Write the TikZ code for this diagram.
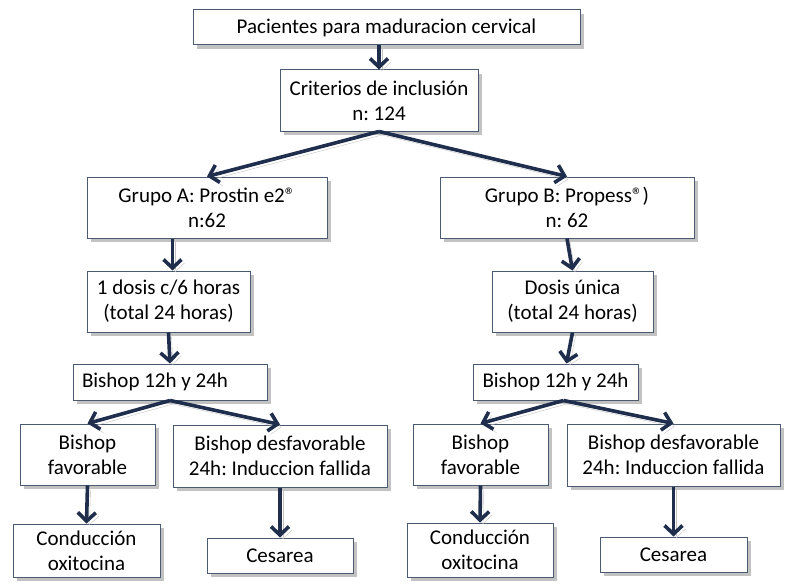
\documentclass[tikz,border=0pt]{standalone}
\usepackage{fontspec}
\setmainfont{Carlito}
\usepackage{xcolor}
\usepackage{tikz}
\usetikzlibrary{arrows.meta,shadows}
\definecolor{arrownavy}{HTML}{1F2E4C}
\definecolor{boxedge}{HTML}{4A5A70}
\definecolor{shadowgray}{HTML}{C2C2C2}
\frenchspacing

\begin{document}
\begin{tikzpicture}[x=1pt, y=-1pt,
    box/.style={draw=boxedge, line width=1pt, fill=white, align=center, inner sep=2pt,
        drop shadow={shadow xshift=4pt, shadow yshift=-4pt, fill=shadowgray, opacity=1},
        font=\fontsize{21}{25}\selectfont},
    link/.style={draw=arrownavy, line width=3.6pt, -{Straight Barb[length=8.5pt,width=18pt]},
        preaction={draw=shadowgray, transform canvas={xshift=3pt, yshift=-3.5pt}}}]
    \useasboundingbox (0,0) rectangle (788,586);
    \node[box, minimum width=387pt, minimum height=35pt] (pac) at (386.5,27.5) {Pacientes para maduracion cervical};
    \node[box, minimum width=198pt, minimum height=61pt] (crit) at (379,100.5) {Criterios de inclusión\\n: 124};
    \node[box, minimum width=240pt, minimum height=61pt] (grA) at (207,207.5) {Grupo A: Prostin e2®\\n:62};
    \node[box, minimum width=254pt, minimum height=61pt] (grB) at (567,207.5) {Grupo B: Propess®)\\n: 62};
    \node[box, minimum width=163pt, minimum height=61pt] (dosA) at (168.5,301.5) {1 dosis c/6 horas\\(total 24 horas)};
    \node[box, minimum width=161pt, minimum height=61pt] (dosB) at (572.5,301.5) {Dosis única\\(total 24 horas)};
    \node[box, minimum width=194pt, minimum height=36pt, inner xsep=9pt, text width=176pt, align=flush left] (bishA) at (170,382) {Bishop 12h y 24h};
    \node[box, minimum width=165pt, minimum height=36pt] (bishB) at (555.5,382) {Bishop 12h y 24h};
    \node[box, minimum width=135pt, minimum height=61pt] (favA) at (87.5,454.5) {Bishop\\favorable};
    \node[box, minimum width=214pt, minimum height=62pt] (desA) at (280,456) {Bishop desfavorable\\24h: Induccion fallida};
    \node[box, minimum width=135pt, minimum height=61pt] (favB) at (480.5,454.5) {Bishop\\favorable};
    \node[box, minimum width=213pt, minimum height=62pt] (desB) at (673.5,455) {Bishop desfavorable\\24h: Induccion fallida};
    \node[box, minimum width=147pt, minimum height=53pt] (conA) at (86.5,550.5) {Conducción\\oxitocina};
    \node[box, minimum width=146pt, minimum height=35pt] (cesA) at (280,555.5) {Cesarea};
    \node[box, minimum width=146pt, minimum height=54pt] (conB) at (480,550) {Conducción\\oxitocina};
    \node[box, minimum width=147pt, minimum height=35pt] (cesB) at (673.5,554.5) {Cesarea};
    \draw[link] (crit.north |- pac.south) -- (crit.north);
    \draw[link] (crit.south) -- (grA.north);
    \draw[link] (crit.south) -- (grB.north);
    \draw[link] ([xshift=4pt]dosA.north |- grA.south) -- ([xshift=4pt]dosA.north);
    \draw[link] (grB.south) -- (dosB.north);
    \draw[link] (dosA.south) -- (bishA.north);
    \draw[link] (dosB.south) -- ([xshift=11pt]bishB.north);
    \draw[link] (bishA.south) -- (favA.north);
    \draw[link] (bishA.south) -- (desA.north);
    \draw[link] ([xshift=8pt]bishB.south) -- (favB.north);
    \draw[link] ([xshift=8pt]bishB.south) -- (desB.north);
    \draw[link] (favA.south) -- (conA.north);
    \draw[link] (desA.south) -- (cesA.north);
    \draw[link] (favB.south) -- (conB.north);
    \draw[link] (desB.south) -- (cesB.north);
\end{tikzpicture}
\end{document}
